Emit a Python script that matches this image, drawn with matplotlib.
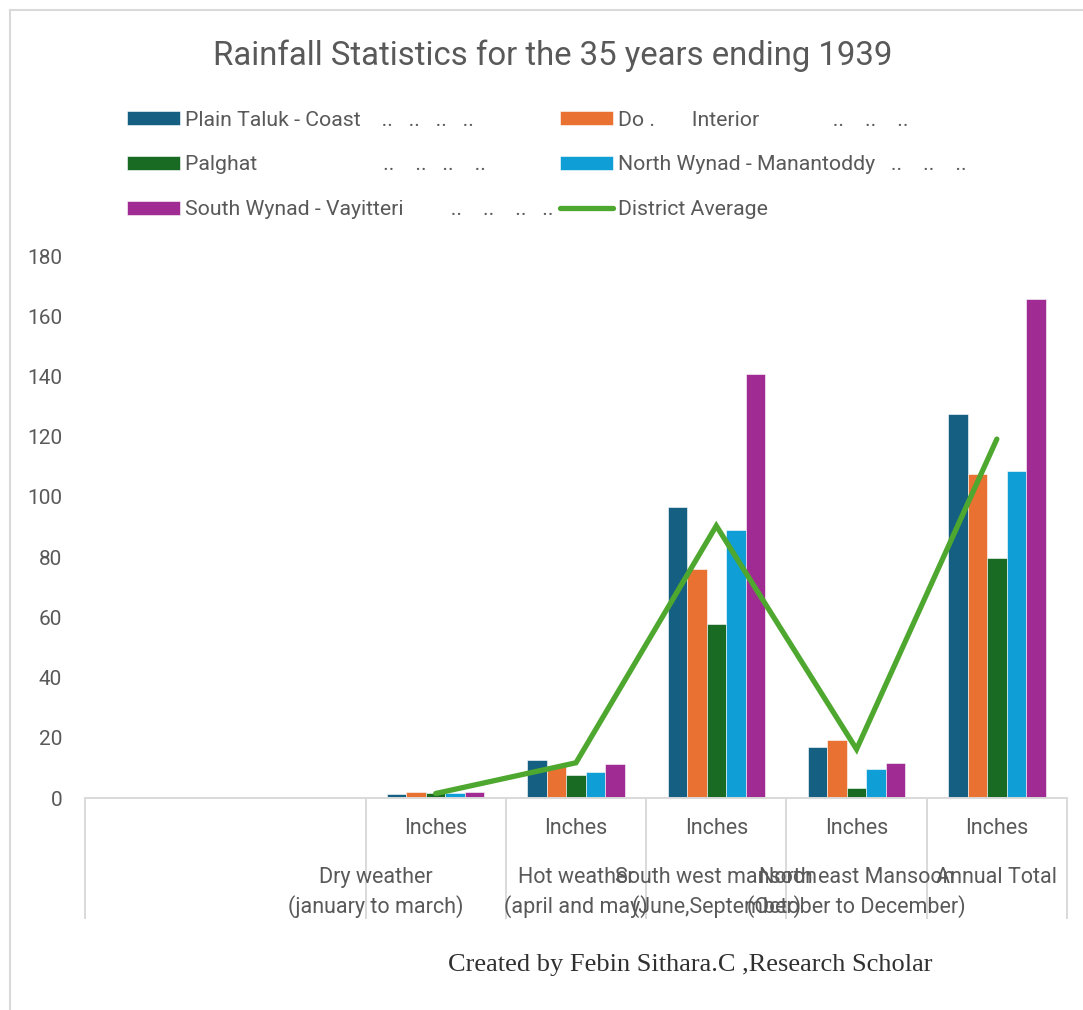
import matplotlib
matplotlib.use("Agg")
import matplotlib.pyplot as plt
import numpy as np
from matplotlib.lines import Line2D

plt.rcParams['font.family'] = ['Roboto', 'DejaVu Sans']

# ---------------- data ----------------
outer_labels = ["Dry weather\n(january to march)",
                "Hot weather\n(april and may)",
                "South west mansoon\n(June,September)",
                "North east Mansoon\n(October to December)",
                "Annual Total"]
inner_labels = ["Inches", "Inches", "Inches", "Inches", "Inches"]

series_labels = ["Plain Taluk - Coast    ..   ..   ..   ..",
                 "Do .       Interior              ..    ..    ..",
                 "Palghat                        ..    ..   ..    ..",
                 "North Wynad - Manantoddy   ..    ..    ..",
                 "South Wynad - Vayitteri         ..    ..    ..   ..",
                 "District Average"]

plain_coast    = [1.4, 12.5, 96.6, 17.0, 127.5]
do_interior    = [2.0, 10.7, 76.0, 19.3, 107.6]
palghat        = [1.5, 7.6, 57.7, 3.3, 79.8]
north_wynad    = [1.6, 8.5, 89.0, 9.6, 108.6]
south_wynad    = [2.0, 11.4, 140.7, 11.7, 165.7]
district_avg   = [1.5, 11.7, 90.4, 16.2, 119.2]

bar_series = [plain_coast, do_interior, palghat, north_wynad, south_wynad]
bar_colors = ["#156082", "#E97132", "#196B24", "#0F9ED5", "#A02B93"]
line_color = "#4EA72E"
text_color = "#595959"
grid_gray = "#D9D9D9"

# ---------------- figure ----------------
W, H = 1083, 1010
fig = plt.figure(figsize=(W / 100, H / 100), dpi=100)
ax_left, ax_right, ax_bot, ax_top = 85, 1067, 798, 256
ax = fig.add_axes([ax_left / W, 1 - ax_bot / H, (ax_right - ax_left) / W, (ax_bot - ax_top) / H])

x = np.arange(len(outer_labels))
bw = 0.139
bars = []
for i, (vals, col) in enumerate(zip(bar_series, bar_colors)):
    b = ax.bar(x + (i - 2) * bw, vals, width=bw, color=col, edgecolor="white",
               linewidth=0.4, zorder=2)
    bars.append(b)
line, = ax.plot(x, district_avg, color=line_color, lw=3.8, solid_capstyle="round",
                solid_joinstyle="miter", zorder=3)

ax.set_xlim(-2.5, 4.5)
ax.set_ylim(0, 180)
ax.set_yticks(np.arange(0, 181, 20))
ax.tick_params(axis="y", length=0, pad=16.5, labelsize=15, labelcolor=text_color)
ax.set_xticks([])
for s in ["top", "right", "left"]:
    ax.spines[s].set_visible(False)
ax.spines["bottom"].set_color(grid_gray)
ax.spines["bottom"].set_linewidth(1.4)

tr = ax.get_xaxis_transform()
# category separators (multi-level axis)
for bx in [-2.5, -0.5, 0.5, 1.5, 2.5, 3.5, 4.5]:
    ax.plot([bx, bx], [0, -0.221], transform=tr, color=grid_gray, lw=1.4, clip_on=False)

for xi, lab in zip(x, inner_labels):
    ax.text(xi, -0.0554, lab, transform=tr, ha="center", va="center",
            fontsize=15.5, color=text_color)

outer_x = [xi + d for xi, d in zip(x, [-0.43, 0, 0, 0, 0])]
for xo, lab in zip(outer_x, outer_labels):
    ax.text(xo, -0.127, lab, transform=tr, ha="center", va="top", fontsize=15.5,
            color=text_color, linespacing=1.41, multialignment="center")

# title
fig.text(553 / W, 1 - 56 / H, "Rainfall Statistics for the 35 years ending 1939",
         ha="center", va="center", fontsize=23.7, color=text_color)

# caption
fig.text(690 / W, 1 - 965 / H, "Created by Febin Sithara.C ,Research Scholar",
         ha="center", va="center", fontsize=19, color="#303030",
         family=["Liberation Serif", "DejaVu Serif"])

# legends (two columns)
leg_kw = dict(frameon=False, loc="upper left", borderpad=0, borderaxespad=0,
              handlelength=2.5, handleheight=0.65, handletextpad=0.25,
              labelspacing=1.22, fontsize=15.3, labelcolor=text_color)
fig.legend([bars[0], bars[2], bars[4]],
           [series_labels[0], series_labels[2], series_labels[4]],
           bbox_to_anchor=(127 / W, 1 - 110.5 / H), **leg_kw)
fig.legend([bars[1], bars[3], line],
           [series_labels[1], series_labels[3], series_labels[5]],
           bbox_to_anchor=(560 / W, 1 - 110.5 / H), **leg_kw)

# chart border
fig.add_artist(Line2D([9.5 / W, 9.5 / W], [0, 1 - 10 / H], color=grid_gray, lw=1.5,
                      transform=fig.transFigure))
fig.add_artist(Line2D([9.5 / W, 1], [1 - 10 / H, 1 - 10 / H], color=grid_gray, lw=1.5,
                      transform=fig.transFigure))

fig.savefig("out.png", dpi=100)
